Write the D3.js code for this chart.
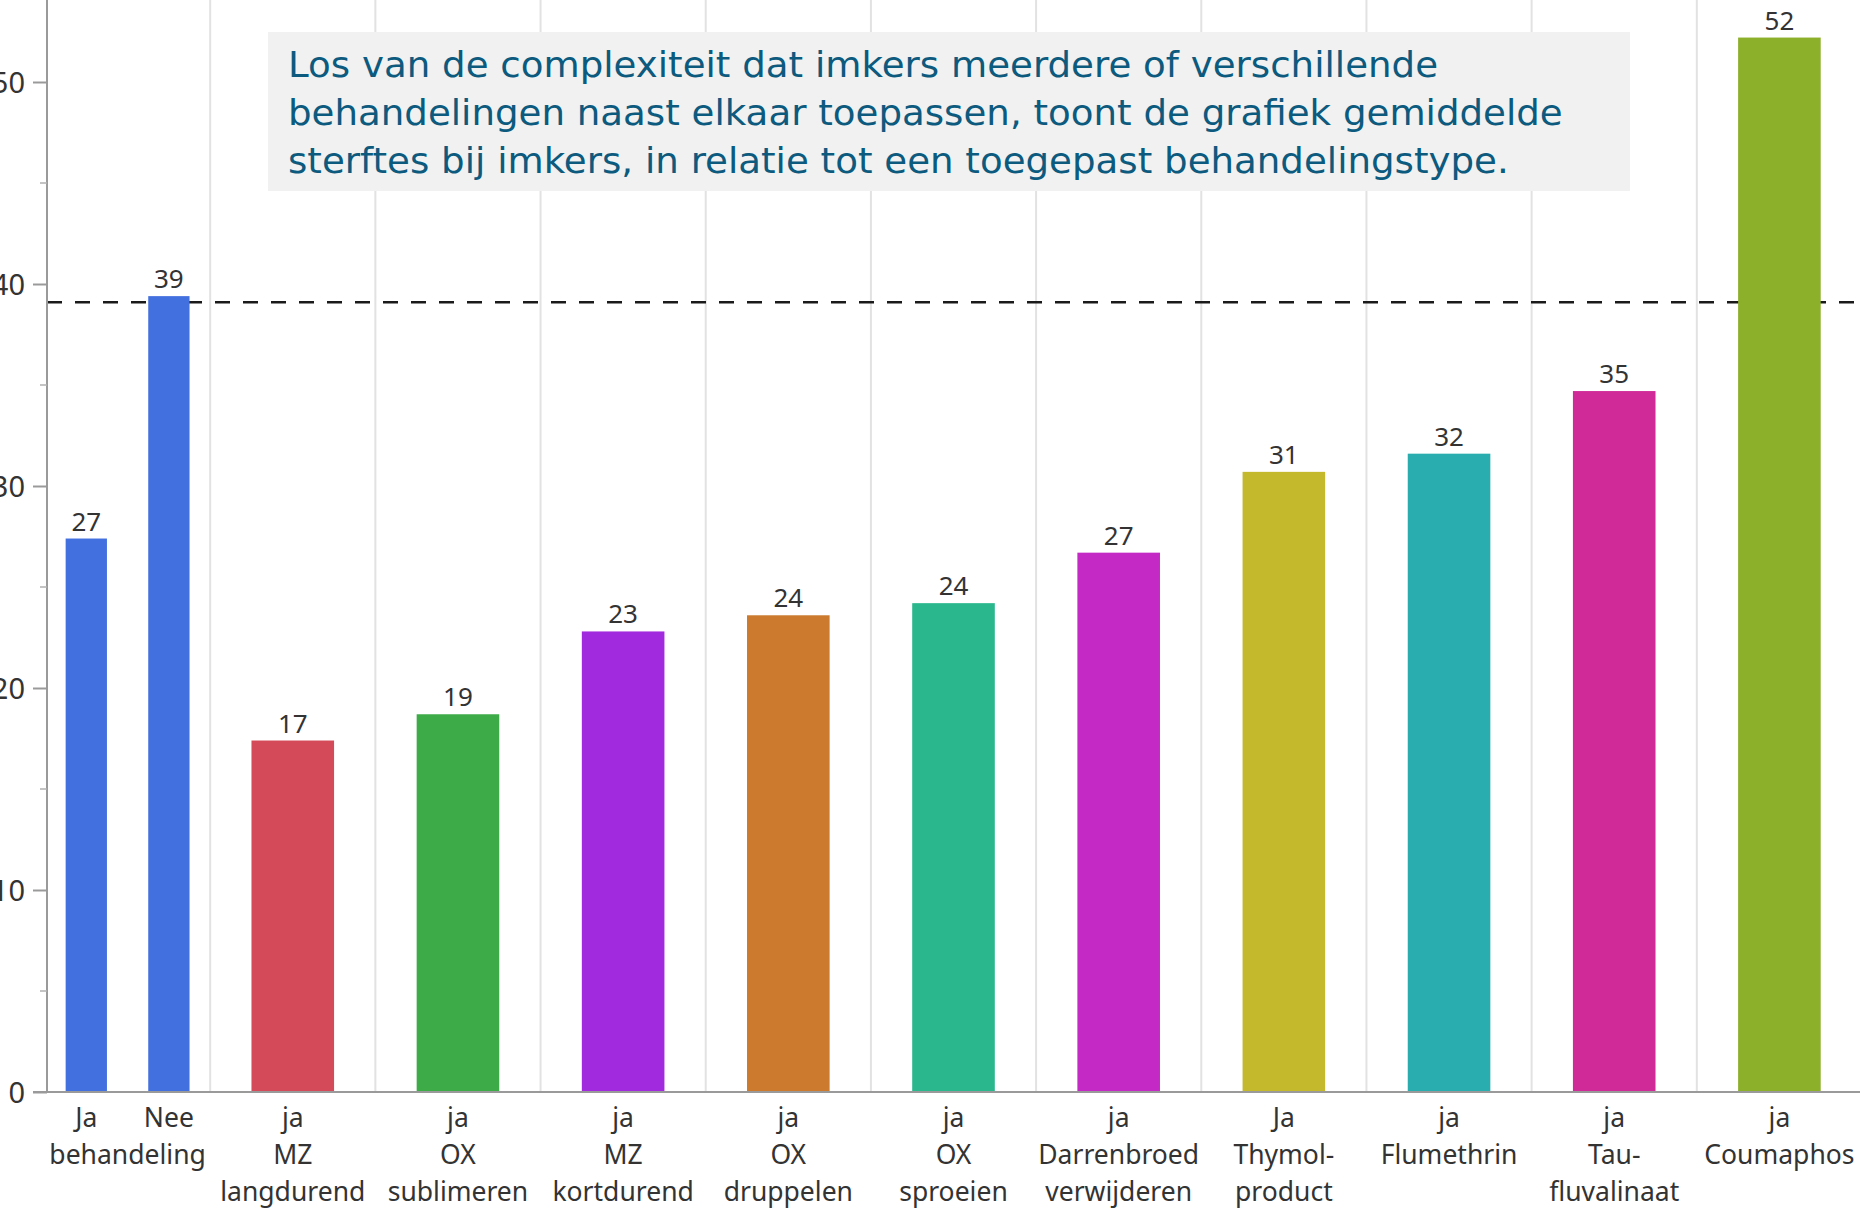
<!DOCTYPE html>
<html>
<head>
<meta charset="utf-8">
<script src="https://cdn.jsdelivr.net/npm/d3@7"></script>
<style>
  html, body { margin: 0; padding: 0; background: #fff; overflow: hidden; }
  svg { display: block; }
</style>
</head>
<body>
<svg id="chart" width="1860" height="1209"></svg>
<script>
// ---------- DATA ----------
const barNames = ["Ja behandeling", "Nee behandeling", "MZ langdurend", "OX sublimeren", "MZ kortdurend",
  "OX druppelen", "OX sproeien", "Darrenbroed verwijderen", "Thymol-product", "Flumethrin", "Tau-fluvalinaat", "Coumaphos"];
const barFirstLine = ["Ja", "Nee", "ja", "ja", "ja", "ja", "ja", "ja", "Ja", "ja", "ja", "ja"];
const barGroup = [0, 0, 1, 2, 3, 4, 5, 6, 7, 8, 9, 10];
const values = [27.4, 39.4, 17.4, 18.7, 22.8, 23.6, 24.2, 26.7, 30.7, 31.6, 34.7, 52.2];
const barColors = ["#4370df", "#4370df", "#d44a58", "#3cab48", "#a22ade", "#cb7a2e", "#2ab78d",
  "#c429c5", "#c4b92c", "#29adaf", "#d02a98", "#8db02a"];
const groupLines = [["behandeling"], ["MZ", "langdurend"], ["OX", "sublimeren"], ["MZ", "kortdurend"],
  ["OX", "druppelen"], ["OX", "sproeien"], ["Darrenbroed", "verwijderen"], ["Thymol-", "product"],
  ["Flumethrin"], ["Tau-", "fluvalinaat"], ["Coumaphos"]];
const meanValue = 39.1;
const yTicks = [0, 10, 20, 30, 40, 50];
const yMinorTicks = [5, 15, 25, 35, 45];
const noteLines = [
  "Los van de complexiteit dat imkers meerdere of verschillende",
  "behandelingen naast elkaar toepassen, toont de grafiek gemiddelde",
  "sterftes bij imkers, in relatie tot een toegepast behandelingstype."
];

// ---------- LAYOUT ----------
const W = 1860, H = 1209;
const axisX = 47, baseY = 1092;
const svg = d3.select("#chart");

const y = d3.scaleLinear().domain([0, 54]).range([baseY, baseY - 54 * 20.2]);
const groups = d3.range(groupLines.length);
const xg = d3.scaleBand().domain(groups).range([45, 1862]).padding(0);

function barCenter(i) {
  const g = barGroup[i];
  const members = barNames.map((n, k) => k).filter(k => barGroup[k] === g);
  const sub = d3.scaleBand().domain(members).range([xg(g), xg(g) + xg.bandwidth()]);
  return { cx: sub(i) + sub.bandwidth() / 2, w: sub.bandwidth() * 0.5 };
}

// vertical gridlines at group boundaries
svg.append("g").selectAll("line").data(groups.slice(1)).join("line")
  .attr("x1", g => xg(g)).attr("x2", g => xg(g))
  .attr("y1", 0).attr("y2", baseY)
  .attr("stroke", "#e2e2e2").attr("stroke-width", 2);

// mean dashed line (behind bars)
svg.append("line")
  .attr("x1", axisX).attr("x2", W)
  .attr("y1", y(meanValue)).attr("y2", y(meanValue))
  .attr("stroke", "#1a1a1a").attr("stroke-width", 2.6)
  .attr("stroke-dasharray", "15,13");

// bars
const bars = svg.append("g");
values.forEach((v, i) => {
  const b = barCenter(i);
  bars.append("rect")
    .attr("x", b.cx - b.w / 2).attr("width", b.w)
    .attr("y", y(v)).attr("height", y(0) - y(v))
    .attr("fill", barColors[i]);
  bars.append("text")
    .attr("x", b.cx).attr("y", y(v) - 8)
    .attr("text-anchor", "middle")
    .attr("font-family", "'Noto Sans', sans-serif")
    .attr("font-size", 26).attr("fill", "#333")
    .text(d3.format(".0f")(v));
});

// Y axis
const yAxis = d3.axisLeft(y).tickValues(yTicks).tickSize(14).tickPadding(8).tickFormat(d3.format("d"));
const ya = svg.append("g").attr("transform", `translate(${axisX},0)`).call(yAxis);
ya.select(".domain").attr("stroke", "#9a9a9a").attr("stroke-width", 2).attr("d", `M0,0V${baseY}`);
ya.selectAll(".tick line").attr("stroke", "#9a9a9a").attr("stroke-width", 2);
ya.selectAll(".tick text").attr("font-family", "'Noto Sans', sans-serif").attr("font-size", 29).attr("fill", "#333")
  .attr("dy", "0.35em");
svg.append("g").selectAll("line").data(yMinorTicks).join("line")
  .attr("x1", axisX - 7).attr("x2", axisX).attr("y1", d => y(d)).attr("y2", d => y(d))
  .attr("stroke", "#b0b0b0").attr("stroke-width", 1.5);

// X axis line
svg.append("line").attr("x1", axisX - 14).attr("x2", W).attr("y1", baseY).attr("y2", baseY)
  .attr("stroke", "#9a9a9a").attr("stroke-width", 2);

// X labels
const xl = svg.append("g").attr("font-family", "'Noto Sans', sans-serif").attr("font-size", 26.5).attr("fill", "#333")
  .attr("text-anchor", "middle");
barFirstLine.forEach((t, i) => {
  xl.append("text").attr("x", barCenter(i).cx).attr("y", 1127).text(t);
});
groupLines.forEach((lines, g) => {
  lines.forEach((t, j) => {
    xl.append("text").attr("x", xg(g) + xg.bandwidth() / 2).attr("y", 1164 + j * 37).text(t);
  });
});

// annotation box
svg.append("rect").attr("x", 268).attr("y", 32).attr("width", 1362).attr("height", 159).attr("fill", "#f1f1f1");
const note = svg.append("g").attr("font-family", "'DejaVu Sans', Verdana, sans-serif")
  .attr("font-size", 36).attr("fill", "#0c5a7e");
const noteTexts = noteLines.map((t, j) =>
  note.append("text").attr("x", 0).attr("y", 0).text(t));
const longest = d3.max(noteTexts, t => t.node().getComputedTextLength());
const sx = 1275 / longest;
noteTexts.forEach((t, j) => t.attr("transform", `translate(288,${77 + j * 48}) scale(${sx},1)`));
</script>
</body>
</html>
